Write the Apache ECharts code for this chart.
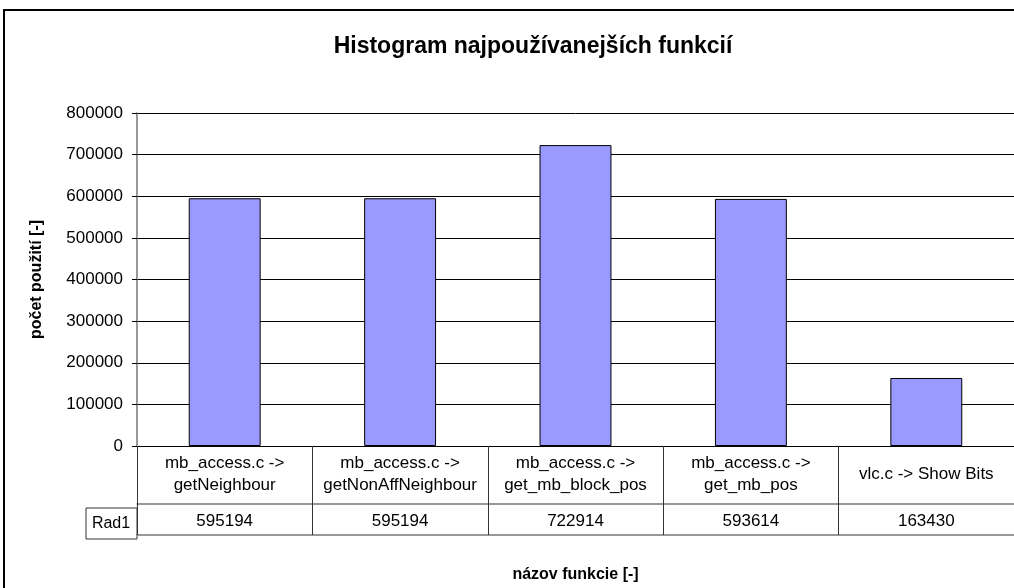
<!DOCTYPE html>
<html>
<head>
<meta charset="utf-8">
<script src="https://cdn.jsdelivr.net/npm/echarts@6/dist/echarts.min.js"></script>
<style>
    html, body { margin: 0; padding: 0; background: #fff; }
    #echarts-main { width: 1014px; height: 588px; }
</style>
</head>
<body>
<div id="echarts-main"></div>
<script>
    // data
    const categories = [
        'mb_access.c ->\ngetNeighbour',
        'mb_access.c ->\ngetNonAffNeighbour',
        'mb_access.c ->\nget_mb_block_pos',
        'mb_access.c ->\nget_mb_pos',
        'vlc.c -> Show Bits'
    ]
    const rad1 = [595194, 595194, 722914, 593614, 163430]
    const seriesName = 'Rad1'
    const yTicks = { min: 0, max: 800000, interval: 100000 }

    const FONT = 'Liberation Sans, Arial, sans-serif'

    let chartDom = document.getElementById('echarts-main')
    let myChart = echarts.init(chartDom)

    const option = {
        animation: false,
        backgroundColor: '#fff',
        textStyle: { fontFamily: FONT },
        title: {
            text: 'Histogram najpoužívanejších funkcií',
            left: 528,
            top: 30,
            textAlign: 'center',
            textStyle: { fontFamily: FONT, fontSize: 23, fontWeight: 'bold', color: '#000' }
        },
        grid: {
            left: 137,
            top: 113,
            right: -1,
            bottom: 138
        },
        xAxis: [
            {
                type: 'category',
                data: categories,
                position: 'bottom',
                name: 'názov funkcie [-]',
                nameLocation: 'middle',
                nameGap: 121,
                nameTextStyle: { fontFamily: FONT, fontSize: 16, fontWeight: 'bold', color: '#000' },
                axisLine: { lineStyle: { color: '#000', width: 1 } },
                axisTick: { show: true, length: 89, lineStyle: { color: '#333' } },
                axisLabel: {
                    interval: 0,
                    margin: 28,
                    verticalAlign: 'middle',
                    lineHeight: 22,
                    fontSize: 17,
                    color: '#000'
                }
            },
            {
                // value row of the data table
                type: 'category',
                data: rad1.map(v => String(v)),
                position: 'bottom',
                offset: 58,
                axisLine: { lineStyle: { color: '#777', width: 1.5 } },
                axisTick: { show: false },
                axisLabel: {
                    interval: 0,
                    margin: 17,
                    verticalAlign: 'middle',
                    fontSize: 17,
                    color: '#000'
                }
            },
            {
                // bottom line of the table
                type: 'category',
                data: categories,
                position: 'bottom',
                offset: 89,
                axisLine: { lineStyle: { color: '#777', width: 1.5 } },
                axisTick: { show: false },
                axisLabel: { show: false }
            }
        ],
        yAxis: {
            type: 'value',
            min: yTicks.min,
            max: yTicks.max,
            interval: yTicks.interval,
            name: 'počet použití [-]',
            nameLocation: 'middle',
            nameGap: 92,
            nameMoveOverlap: false,
            nameTextStyle: { fontFamily: FONT, fontSize: 16, fontWeight: 'bold', color: '#000' },
            axisLine: { show: true, lineStyle: { color: '#777', width: 1.5 } },
            axisTick: { show: true, length: 5, lineStyle: { color: '#000' } },
            axisLabel: { fontSize: 17, color: '#000', margin: 14, formatter: v => String(v) },
            splitLine: { show: true, lineStyle: { color: '#000', width: 1 } }
        },
        series: [
            {
                name: seriesName,
                type: 'bar',
                data: rad1,
                barWidth: '41%',
                itemStyle: { color: '#9999FF', borderColor: '#000', borderWidth: 1 }
            }
        ],
        graphic: [
            {
                type: 'rect',
                shape: { x: 4, y: 10, width: 1100, height: 700 },
                style: { fill: 'none', stroke: '#000', lineWidth: 2 },
                silent: true
            },
            {
                type: 'rect',
                shape: { x: 86, y: 508, width: 51, height: 31 },
                style: { fill: 'none', stroke: '#333', lineWidth: 1 },
                silent: true
            },
            {
                type: 'text',
                x: 111,
                y: 524,
                style: {
                    text: seriesName,
                    fontFamily: FONT,
                    fontSize: 16,
                    fill: '#000',
                    align: 'center',
                    verticalAlign: 'middle'
                }
            }
        ]
    }

    myChart.setOption(option)
</script>
</body>
</html>
